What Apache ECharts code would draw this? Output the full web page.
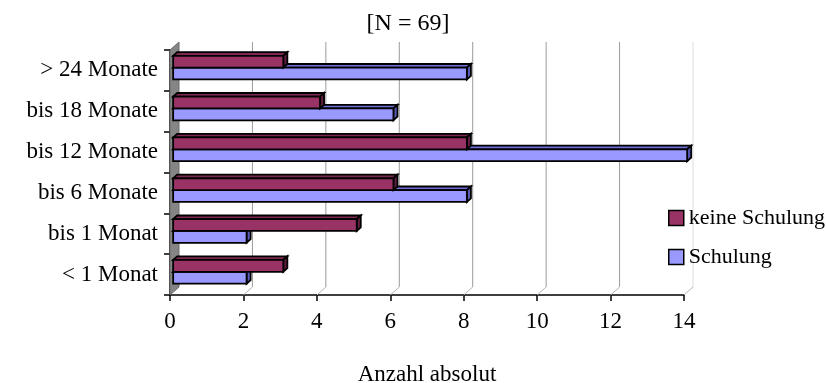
<!DOCTYPE html>
<html>
<head>
<meta charset="utf-8">
<script src="https://cdn.jsdelivr.net/npm/echarts@6/dist/echarts.min.js"></script>
<style>
  html, body { margin: 0; padding: 0; background: #fff; }
  #chart { width: 826px; height: 383px; }
</style>
</head>
<body>
<div id="chart"></div>
<script>
// Duration categories, top to bottom
const categories = ['> 24 Monate', 'bis 18 Monate', 'bis 12 Monate', 'bis 6 Monate', 'bis 1 Monat', '< 1 Monat'];
// Counts per category
const keineSchulung = [3, 4, 8, 6, 5, 3];
const schulung = [8, 6, 14, 8, 2, 2];
// Value axis ticks
const tickValues = [0, 2, 4, 6, 8, 10, 12, 14];

const FONT = '"Liberation Serif", "Times New Roman", serif';
const FS = 23;
const DEPTH = [9, -8];          // offset of the back wall from the front plane
const BAR_FRONT = 0.35;         // bar front face position within the depth
const BAR_BACK = 0.8;           // bar back face position within the depth

const chart = echarts.init(document.getElementById('chart'), null, { renderer: 'canvas' });

// Back wall gridlines, floor slants and the grey side wall
function renderFrame(params, api) {
  const cs = params.coordSys;
  const v = api.value(0);
  const x = api.coord([v, 0])[0];
  const top = cs.y, bottom = cs.y + cs.height;
  const children = [];
  if (v === 0) {
    children.push({
      type: 'polygon',
      shape: { points: [[x, top], [x + DEPTH[0], top + DEPTH[1]], [x + DEPTH[0], bottom + DEPTH[1]], [x, bottom]] },
      style: { fill: '#858585', stroke: '#6a6a6a', lineWidth: 1 }
    });
  } else {
    children.push({
      type: 'line',
      shape: { x1: x + DEPTH[0], y1: top + DEPTH[1], x2: x + DEPTH[0], y2: bottom + DEPTH[1] },
      style: { stroke: v === 14 ? '#dddddd' : '#9a9a9a', lineWidth: 1 }
    });
    children.push({
      type: 'line',
      shape: { x1: x, y1: bottom, x2: x + DEPTH[0], y2: bottom + DEPTH[1] },
      style: { stroke: '#b5b5b5', lineWidth: 1 }
    });
  }
  return { type: 'group', children };
}

// 3D-style horizontal bar: front face, top face and right side face
function makeBarRenderer(slot, front, topColor, sideColor) {
  return function (params, api) {
    const val = api.value(0);
    const cat = api.value(1);
    const p0 = api.coord([0, cat]);
    const p1 = api.coord([val, cat]);
    const band = api.size([0, 1])[1];
    const h = band * 0.29;
    const fx = DEPTH[0] * BAR_FRONT, fy = DEPTH[1] * BAR_FRONT;
    const dx = DEPTH[0] * (BAR_BACK - BAR_FRONT), dy = DEPTH[1] * (BAR_BACK - BAR_FRONT);
    const x0 = p0[0] + fx, x1 = p1[0] + fx;
    const y0 = p0[1] + fy + (slot === 0 ? -h : 0);
    const y1 = y0 + h;
    const border = { stroke: '#000', lineWidth: 1.8, lineJoin: 'miter' };
    return {
      type: 'group',
      children: [
        { type: 'polygon', shape: { points: [[x0, y0], [x1, y0], [x1 + dx, y0 + dy], [x0 + dx, y0 + dy]] },
          style: Object.assign({ fill: topColor }, border) },
        { type: 'polygon', shape: { points: [[x1, y0], [x1 + dx, y0 + dy], [x1 + dx, y1 + dy], [x1, y1]] },
          style: Object.assign({ fill: sideColor }, border) },
        { type: 'rect', shape: { x: x0, y: y0, width: x1 - x0, height: h },
          style: Object.assign({ fill: front }, border) }
      ]
    };
  };
}

const option = {
  animation: false,
  backgroundColor: '#fff',
  title: {
    text: '[N = 69]',
    left: 403, top: 7, textAlign: 'center',
    textStyle: { fontFamily: FONT, fontSize: 24, fontWeight: 'normal', color: '#000' }
  },
  legend: {
    data: ['keine Schulung', 'Schulung'],
    orient: 'vertical',
    left: 663, top: 202,
    itemWidth: 15, itemHeight: 15, itemGap: 17,
    icon: 'rect',
    itemStyle: { borderColor: '#000', borderWidth: 1.5 },
    textStyle: { fontFamily: FONT, fontSize: FS - 1, color: '#000' }
  },
  grid: { left: 170, right: 142, top: 50, bottom: 88, containLabel: false, outerBoundsMode: 'none' },
  xAxis: {
    type: 'value', min: 0, max: 14, interval: 2,
    name: 'Anzahl absolut', nameLocation: 'middle', nameGap: 68,
    nameTextStyle: { fontFamily: FONT, fontSize: FS, color: '#000' },
    axisLine: { show: true, lineStyle: { color: '#000', width: 1.5 } },
    axisTick: { show: true, length: 6, lineStyle: { color: '#000', width: 1.5 } },
    axisLabel: { margin: 15, fontFamily: FONT, fontSize: FS, color: '#000' },
    splitLine: { show: false }
  },
  yAxis: {
    type: 'category', data: categories, inverse: true,
    axisLine: { show: true, lineStyle: { color: '#000', width: 1.5 } },
    axisTick: { show: true, length: 6, lineStyle: { color: '#000', width: 1.5 } },
    axisLabel: { margin: 12, fontFamily: FONT, fontSize: FS, color: '#000' },
    splitLine: { show: false }
  },
  series: [
    {
      name: 'frame', type: 'custom', z: 1, silent: true,
      renderItem: renderFrame,
      encode: { x: 0, y: 1 },
      data: tickValues.map(v => [v, 0])
    },
    {
      name: 'Schulung', type: 'custom', z: 2,
      itemStyle: { color: '#9999ff' },
      renderItem: makeBarRenderer(1, '#9999ff', '#6e6ed6', '#5a5ab8'),
      encode: { x: 0, y: 1 },
      data: schulung.map((v, i) => [v, i])
    },
    {
      name: 'keine Schulung', type: 'custom', z: 3,
      itemStyle: { color: '#993366' },
      renderItem: makeBarRenderer(0, '#993366', '#7d2853', '#5e1d3e'),
      encode: { x: 0, y: 1 },
      data: keineSchulung.map((v, i) => [v, i])
    }
  ]
};

chart.setOption(option);
</script>
</body>
</html>
